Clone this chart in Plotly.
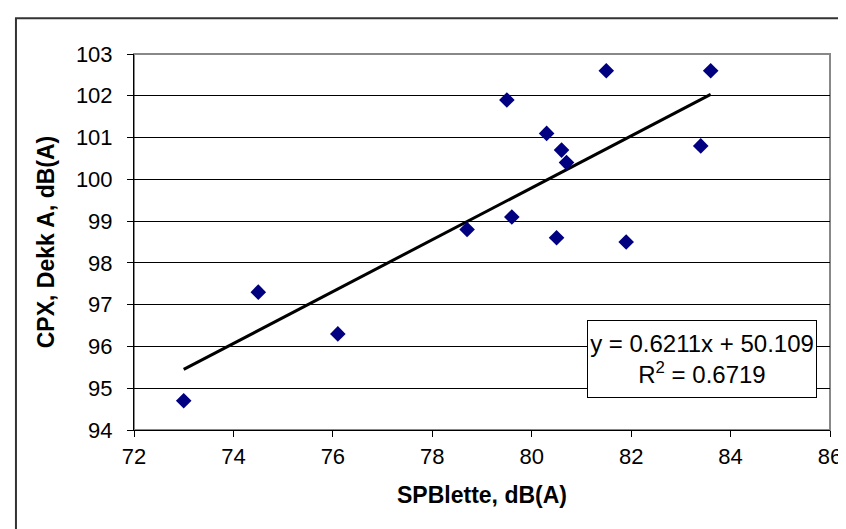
import numpy as np
import plotly.graph_objects as go

# Measured levels, dB(A)
spblette = [73.0, 74.5, 76.1, 78.7, 79.5, 79.6, 80.3, 80.5, 80.6, 80.7, 81.5, 81.9, 83.4, 83.6]
cpx_dekk_a = [94.7, 97.3, 96.3, 98.8, 101.9, 99.1, 101.1, 98.6, 100.7, 100.4, 102.6, 98.5, 100.8, 102.6]

# Linear trend as reported on the chart
slope = 0.6211
intercept = 50.109
r_squared = 0.6719

x_ticks = list(range(72, 87, 2))
y_ticks = list(range(94, 104))

FONT = "Liberation Sans, Arial, sans-serif"

fig = go.Figure()

# trend line over the data span
x_fit = np.array([min(spblette), max(spblette)])
y_fit = slope * x_fit + intercept
fig.add_trace(go.Scatter(
    x=x_fit, y=y_fit,
    mode="lines",
    line=dict(color="black", width=3),
    showlegend=False,
    hoverinfo="skip"
))

fig.add_trace(go.Scatter(
    x=spblette, y=cpx_dekk_a,
    mode="markers",
    marker=dict(symbol="diamond", size=12, color="#000080"),
    showlegend=False
))

fig.add_annotation(
    x=83.42, y=95.71, xref="x", yref="y",
    xanchor="center", yanchor="middle",
    text=f"y = {slope}x + {intercept}<br>R<sup>2</sup> = {r_squared}",
    showarrow=False,
    align="center",
    width=228, height=76,
    bgcolor="white", bordercolor="black", borderwidth=1, borderpad=0,
    font=dict(family=FONT, size=24, color="black")
)

# y-axis title placed by hand so it sits further out than plotly's standoff allows
fig.add_annotation(
    x=-0.126, y=0.5, xref="paper", yref="paper",
    xanchor="center", yanchor="middle", textangle=-90,
    text="<b>CPX, Dekk A, dB(A)</b>", showarrow=False,
    font=dict(family=FONT, size=23, color="black")
)

# plot-area frame (grey top/right) and outer chart border
fig.add_shape(type="rect", xref="paper", yref="paper", x0=0, y0=0, x1=1, y1=1,
              line=dict(color="#888888", width=2), layer="below")
fig.add_shape(type="rect", xref="paper", yref="paper",
              x0=-0.1696, y0=-0.35, x1=1.04, y1=1.0953,
              line=dict(color="#333333", width=2), layer="below")

fig.update_xaxes(
    range=[72, 86], tickvals=x_ticks,
    showgrid=False, zeroline=False,
    showline=True, linecolor="black", linewidth=1,
    ticks="outside", ticklen=6, tickcolor="black", ticklabelstandoff=1,
    tickfont=dict(family=FONT, size=22, color="black"),
    title=dict(text="<b>SPBlette, dB(A)</b>", standoff=18,
               font=dict(family=FONT, size=23, color="black"))
)
fig.update_yaxes(
    range=[94, 103], tickvals=y_ticks,
    showgrid=True, gridcolor="black", gridwidth=1, zeroline=False,
    showline=True, linecolor="black", linewidth=1,
    ticks="outside", ticklen=6, tickcolor="black", ticklabelstandoff=10,
    tickfont=dict(family=FONT, size=22, color="black")
)

fig.update_layout(
    width=846, height=529,
    margin=dict(l=126, r=20, t=46, b=107),
    paper_bgcolor="white",
    plot_bgcolor="white",
    showlegend=False
)

fig.write_html("out.html")
